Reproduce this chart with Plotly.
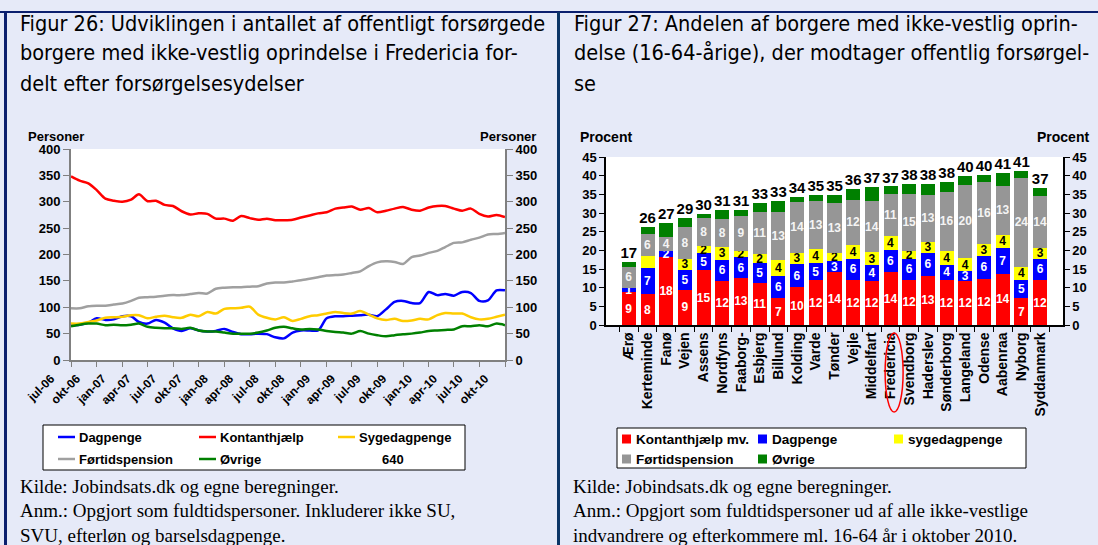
import pandas as pd
import plotly.graph_objects as go

"""
Figur 26: antal personer pr. måned, jul-06 til okt-10
"""
maaneder = pd.date_range("2006-07-01", periods=52, freq="MS")

dagpenge = [66, 67, 71, 79, 76, 77, 83, 83, 72, 69, 76, 71, 60, 55, 60, 56, 54, 55, 59, 53,
            49, 49, 50, 49, 43, 41, 52, 56, 56, 56, 79, 83, 83, 84, 85, 86, 83, 96, 110, 112,
            108, 108, 129, 123, 125, 122, 129, 127, 112, 113, 132, 132]
kontanthjaelp = [348, 340, 335, 322, 306, 302, 300, 304, 314, 301, 302, 294, 292, 282, 276, 278,
                 277, 268, 268, 264, 273, 269, 266, 268, 265, 265, 266, 270, 274, 278, 280, 287,
                 289, 291, 285, 288, 280, 283, 287, 290, 285, 283, 289, 292, 292, 287, 283, 287,
                 277, 272, 275, 271]
sygedagpenge = [69, 69, 72, 75, 80, 81, 82, 85, 85, 79, 82, 84, 81, 80, 86, 83, 91, 88, 97, 98,
                99, 101, 86, 80, 77, 81, 74, 78, 83, 85, 88, 91, 89, 88, 93, 86, 79, 76, 78, 74,
                75, 78, 77, 85, 89, 88, 88, 81, 77, 78, 82, 86]
foertidspension = [98, 98, 102, 103, 103, 105, 107, 112, 118, 119, 120, 122, 123, 123, 125, 127,
                   126, 135, 137, 138, 138, 139, 140, 145, 147, 147, 149, 151, 154, 157, 160, 161,
                   162, 165, 168, 178, 185, 187, 186, 182, 195, 198, 203, 207, 214, 222, 223, 228,
                   232, 238, 239, 241]
oevrige = [64, 67, 69, 69, 66, 67, 66, 67, 69, 63, 61, 60, 60, 59, 61, 56, 54, 54, 52, 50,
           50, 50, 52, 56, 61, 63, 60, 58, 59, 58, 55, 53, 52, 50, 55, 50, 47, 45, 47, 49,
           50, 52, 55, 56, 57, 58, 64, 64, 66, 64, 69, 66]

kvartal_tekst = ["jul-06", "okt-06", "jan-07", "apr-07", "jul-07", "okt-07", "jan-08", "apr-08",
                 "jul-08", "okt-08", "jan-09", "apr-09", "jul-09", "okt-09", "jan-10", "apr-10",
                 "jul-10", "okt-10"]

"""
Figur 27: andel i procent, oktober 2010
"""
kommuner = ["Ærø", "Kerteminde", "Fanø", "Vejen", "Assens", "Nordfyns", "Faaborg-", "Esbjerg",
            "Billund", "Kolding", "Varde", "Tønder", "Vejle", "Middelfart", "Fredericia",
            "Svendborg", "Haderslev", "Sønderborg", "Langeland", "Odense", "Aabenraa", "Nyborg",
            "Syddanmark"]
kontant_pct = [8.8, 8.3, 18.3, 9.4, 14.6, 11.9, 12.6, 11.3, 7.1, 10.2, 12.0, 14.1, 12.0, 11.7,
               14.1, 12.1, 13.2, 12.0, 11.7, 12.4, 13.7, 7.1, 12.0]
dagpenge_pct = [1.2, 7.0, 1.6, 5.4, 4.6, 5.6, 5.6, 5.3, 6.1, 6.1, 4.6, 3.0, 5.8, 4.4, 6.1, 5.7,
                6.2, 4.2, 2.7, 6.2, 7.0, 5.0, 5.8]
syge_pct = [0, 3.2, 0, 3.0, 1.9, 3.4, 1.7, 2.4, 4.3, 3.1, 3.7, 2.3, 3.7, 3.4, 3.7, 2.1, 2.9, 3.7,
            3.6, 3.2, 3.5, 3.5, 2.9]
foert_pct = [5.6, 6.0, 3.8, 8.4, 7.6, 7.6, 9.4, 11.4, 12.9, 13.6, 12.8, 13.4, 12.1, 13.7, 11.3,
             15.3, 12.6, 15.8, 19.6, 16.4, 13.1, 23.9, 13.9]
oevrige_pct = [1.4, 1.8, 3.7, 2.5, 1.0, 2.4, 1.6, 2.4, 2.9, 1.4, 1.7, 2.1, 2.8, 3.8, 1.9, 2.7,
               3.0, 2.7, 2.4, 2.0, 3.5, 1.8, 2.2]
# segmenter uden label i originalen
skjul_label = {("sygedagpenge", "Kerteminde")}

W, H = 1098, 545
ARIAL = "Liberation Sans, Arial, sans-serif"
NARROW = "Liberation Sans Narrow, DejaVu Sans Condensed, sans-serif"
TIMES = "Liberation Serif, Times New Roman, serif"
BG = "#E6EAF8"
NAVY = "#0B1F6E"


def px_x(x):
    return x / W


def px_y(y):
    return 1 - y / H


fig = go.Figure()

# --- Figur 26 lines
serier26 = [
    ("Dagpenge", dagpenge, "#0000FF"),
    ("Kontanthjælp", kontanthjaelp, "#FF0000"),
    ("Sygedagpenge", sygedagpenge, "#FFCC00"),
    ("Førtidspension", foertidspension, "#A0A0A0"),
    ("Øvrige", oevrige, "#008000"),
]
for navn, vals, farve in serier26:
    fig.add_trace(go.Scatter(
        x=maaneder, y=vals, name=navn, mode="lines",
        line=dict(color=farve, width=2.5, shape="spline", smoothing=0.8),
        xaxis="x", yaxis="y", hoverinfo="skip", showlegend=False,
    ))
# invisible trace so the right hand axis is drawn
fig.add_trace(go.Scatter(x=[maaneder[0]], y=[None], mode="lines", showlegend=False,
                         xaxis="x", yaxis="y3", hoverinfo="skip"))

# --- Figur 27 stacked bars
serier27 = [
    ("Kontanthjælp mv.", "kontant", kontant_pct, "#FF0000", "white"),
    ("Dagpenge", "dagpenge", dagpenge_pct, "#0000FF", "white"),
    ("sygedagpenge", "sygedagpenge", syge_pct, "#FFFF00", "black"),
    ("Førtidspension", "foert", foert_pct, "#969696", "#F4F4F4"),
    ("Øvrige", "oevrige", oevrige_pct, "#008000", "white"),
]
for navn, noegle, vals, farve, tekstfarve in serier27:
    if noegle == "oevrige":
        tekst = ["" for v in vals]
    else:
        tekst = [f"{v:.0f}" if v >= 0.5 and (noegle, k) not in skjul_label else ""
                 for v, k in zip(vals, kommuner)]
    fig.add_trace(go.Bar(
        x=kommuner, y=vals, name=navn, marker=dict(color=farve, line=dict(width=0)),
        text=tekst, textposition="inside", insidetextanchor="middle", textangle=0,
        textfont=dict(family=ARIAL, size=12, color=tekstfarve, weight="bold"),
        xaxis="x2", yaxis="y2", hoverinfo="skip", showlegend=False,
    ))

totaler = [sum(t) for t in zip(kontant_pct, dagpenge_pct, syge_pct, foert_pct, oevrige_pct)]
fig.add_trace(go.Scatter(
    x=kommuner, y=totaler, mode="text", text=[f"{t:.0f}" for t in totaler],
    textposition="top center", cliponaxis=False,
    textfont=dict(family=ARIAL, size=15, color="black", weight="bold"),
    xaxis="x2", yaxis="y2", showlegend=False, hoverinfo="skip",
))
fig.add_trace(go.Scatter(
    x=kommuner, y=[None] * len(kommuner), mode="lines", showlegend=False,
    xaxis="x2", yaxis="y4", hoverinfo="skip",
))

akse_font = dict(family=ARIAL, size=13, color="black", weight="bold")
y26 = dict(range=[0, 400], dtick=50, ticks="outside", ticklen=6, tickcolor="#808080",
           showline=True, linecolor="#808080", linewidth=2, showgrid=False, zeroline=False,
           tickfont=akse_font, domain=[px_y(360), px_y(149)])
y27 = dict(range=[0, 45], dtick=5, ticks="outside", ticklen=5, tickcolor="black",
           showline=True, linecolor="black", linewidth=1.5, showgrid=False, zeroline=False,
           tickfont=akse_font, domain=[px_y(325), px_y(157)])

fig.update_layout(
    width=W, height=H, margin=dict(l=0, r=0, t=0, b=0, autoexpand=False),
    paper_bgcolor=BG, plot_bgcolor="white",
    barmode="stack", bargap=0.25, showlegend=False,
    uniformtext=dict(minsize=12, mode="show"),
    xaxis=dict(domain=[px_x(71), px_x(505)], anchor="y",
               range=[maaneder[0], maaneder[-1]],
               tickvals=maaneder[::3], ticktext=kvartal_tekst, tickangle=-45,
               ticks="outside", ticklen=5, tickcolor="#808080", ticklabelshift=-20,
               showline=True, linecolor="#808080", linewidth=2, showgrid=False, zeroline=False,
               tickfont=dict(family=ARIAL, size=12, color="black", weight="bold")),
    yaxis=dict(anchor="x", side="left", **y26),
    yaxis3=dict(anchor="x", side="right", overlaying="y", **y26),
    xaxis2=dict(domain=[px_x(606), px_x(1063)], anchor="y2", type="category",
                tickmode="linear", dtick=1,
                tickangle=-90, tickson="boundaries", ticks="outside", ticklen=5,
                tickcolor="black", showline=True, linecolor="black", linewidth=1.5,
                showgrid=False, tickfont=dict(family=ARIAL, size=14, color="black", weight="bold")),
    yaxis2=dict(anchor="x2", side="left", **y27),
    yaxis4=dict(anchor="x2", side="right", overlaying="y2", **y27),
)

# --- legends drawn as boxes with keys (3 columns, 2 rows like the Excel legends)
fig.add_shape(type="rect", xref="paper", yref="paper", x0=px_x(43), x1=px_x(465),
              y0=px_y(470), y1=px_y(425), fillcolor="white", line=dict(color="black", width=1))
kol26 = [77, 218, 357]
rad26 = [437, 459]
for i, (navn, vals, farve) in enumerate(serier26):
    tx, ty = kol26[i % 3], rad26[i // 3]
    fig.add_shape(type="line", xref="paper", yref="paper", x0=px_x(tx - 19), x1=px_x(tx - 2),
                  y0=px_y(ty), y1=px_y(ty), line=dict(color=farve, width=2.5))
    fig.add_annotation(x=px_x(tx), y=px_y(ty), xref="paper", yref="paper", text=navn,
                       showarrow=False, xanchor="left", yanchor="middle",
                       font=dict(family=ARIAL, size=13, color="black", weight="bold"))
fig.add_annotation(x=px_x(380), y=px_y(rad26[1]), xref="paper", yref="paper", text="640",
                   showarrow=False, xanchor="left", yanchor="middle",
                   font=dict(family=ARIAL, size=13, color="black", weight="bold"))

fig.add_shape(type="rect", xref="paper", yref="paper", x0=px_x(617), x1=px_x(1026),
              y0=px_y(468), y1=px_y(428), fillcolor="white", line=dict(color="black", width=1))
kol27 = [634, 770, 906]
rad27 = [439, 459]
for i, (navn, noegle, vals, farve, tekstfarve) in enumerate(serier27):
    tx, ty = kol27[i % 3], rad27[i // 3]
    fig.add_shape(type="rect", xref="paper", yref="paper", x0=px_x(tx - 12), x1=px_x(tx - 3),
                  y0=px_y(ty + 4.5), y1=px_y(ty - 4.5), fillcolor=farve, line_width=0)
    fig.add_annotation(x=px_x(tx), y=px_y(ty), xref="paper", yref="paper", text=navn,
                       showarrow=False, xanchor="left", yanchor="middle",
                       font=dict(family=ARIAL, size=13.5, color="black", weight="bold"))

# Titles (one annotation per line to keep the line spacing)
titel26 = ["Figur 26: Udviklingen i antallet af offentligt forsørgede",
           "borgere med ikke-vestlig oprindelse i Fredericia for-",
           "delt efter forsørgelsesydelser"]
titel27 = ["Figur 27: Andelen af borgere med ikke-vestlig oprin-",
           "delse (16-64-årige), der modtager offentlig forsørgel-",
           "se"]
for i, (l26, l27) in enumerate(zip(titel26, titel27)):
    for x, txt in [(18, l26), (572, l27)]:
        fig.add_annotation(
            x=px_x(x), y=px_y(23 + 30 * i), xref="paper", yref="paper", text=txt,
            showarrow=False, xanchor="left", yanchor="middle",
            font=dict(family=NARROW, size=21.5, color="black"),
        )

# unit labels
tekster = [
    (56, 137, "Personer", 13),
    (508, 137, "Personer", 13),
    (606, 137, "Procent", 14),
    (1063, 137, "Procent", 14),
]
for x, y, txt, size in tekster:
    fig.add_annotation(
        x=px_x(x), y=px_y(y), xref="paper", yref="paper", text=txt, showarrow=False,
        xanchor="center", yanchor="middle",
        font=dict(family=ARIAL, size=size, color="black", weight="bold"),
    )

noter = [
    (18, ["Kilde: Jobindsats.dk og egne beregninger.",
          "Anm.: Opgjort som fuldtidspersoner. Inkluderer ikke SU,",
          "SVU, efterløn og barselsdagpenge."]),
    (571, ["Kilde: Jobindsats.dk og egne beregninger.",
           "Anm.: Opgjort som fuldtidspersoner ud af alle ikke-vestlige",
           "indvandrere og efterkommere ml. 16-64 år i oktober 2010."]),
]
for x, linjer in noter:
    for i, txt in enumerate(linjer):
        fig.add_annotation(
            x=px_x(x), y=px_y(486 + 24.5 * i), xref="paper", yref="paper", text=txt,
            showarrow=False, xanchor="left", yanchor="middle",
            font=dict(family=TIMES, size=19, color="black"),
        )

# Frame lines
fig.add_shape(type="rect", xref="paper", yref="paper", x0=0, x1=1, y0=px_y(13), y1=px_y(11),
              fillcolor=NAVY, line_width=0)
fig.add_shape(type="rect", xref="paper", yref="paper", x0=px_x(4), x1=px_x(7), y0=0, y1=px_y(12),
              fillcolor=NAVY, line_width=0)
fig.add_shape(type="rect", xref="paper", yref="paper", x0=px_x(557), x1=px_x(560), y0=0,
              y1=px_y(12), fillcolor="#0B3566", line_width=0)

# Red ring around Fredericia
fc = kommuner.index("Fredericia")
midt = (fc + 0.5) / len(kommuner)
fig.add_shape(type="circle", xref="x2 domain", yref="paper",
              x0=midt - 9 / 457, x1=midt + 9 / 457, y0=px_y(412), y1=px_y(333),
              line=dict(color="#FF0000", width=1.5))

fig.write_html("out.html", config={"displayModeBar": False},
               post_script="document.body.style.margin = '0px';")
